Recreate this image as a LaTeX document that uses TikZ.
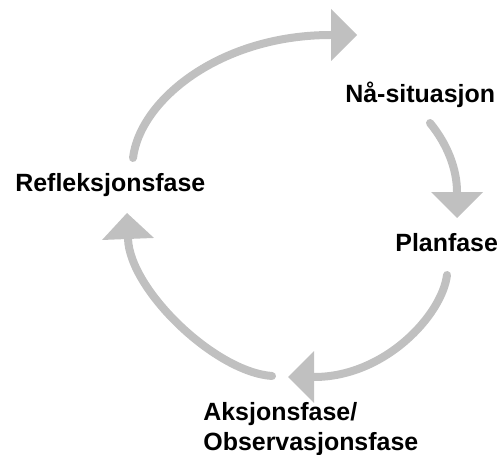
\documentclass[tikz,border=0pt]{standalone}
\usepackage{fontspec}
\setmainfont{Liberation Sans}
\usetikzlibrary{arrows.meta}
\definecolor{cyclegray}{RGB}{192,192,192}

\begin{document}
\begin{tikzpicture}[
        x=0.02cm, y=-0.02cm,
        phase/.style={inner sep=0pt, anchor=base west, font=\fontsize{14.2}{17.07}\selectfont\bfseries, align=left},
        flow/.style={draw=cyclegray, line width=0.16cm, line cap=round,
            -{Triangle[length=0.52cm, width=1.04cm, line width=0pt]}}
    ]
        \useasboundingbox (0,0) rectangle (499,455);
        \node[phase] (naa) at (345,103) {Nå-situasjon};
        \node[phase] (plan) at (395,252) {Planfase};
        \node[phase] (aksjon) at (203,450) {Aksjonsfase/\\Observasjonsfase};
        \node[phase] (refl) at (15,192) {Refleksjonsfase};
        \coordinate (refl-out) at (133,158);
        \coordinate (naa-in) at (357,35);
        \coordinate (naa-out) at (430,123);
        \coordinate (plan-in) at (457,218);
        \coordinate (plan-out) at (447,275);
        \coordinate (aksjon-in) at (288,377);
        \coordinate (aksjon-out) at (272,376);
        \coordinate (refl-in) at (127,213);
        \draw[flow] (refl-out) .. controls (140,100) and (220,35) .. (naa-in);
        \draw[flow] (naa-out) .. controls (448,145) and (457,170) .. (plan-in);
        \draw[flow] (plan-out) .. controls (442,315) and (385,377) .. (aksjon-in);
        \draw[flow] (aksjon-out) .. controls (215,372) and (130,290) .. (refl-in);
    \end{tikzpicture}
\end{document}
